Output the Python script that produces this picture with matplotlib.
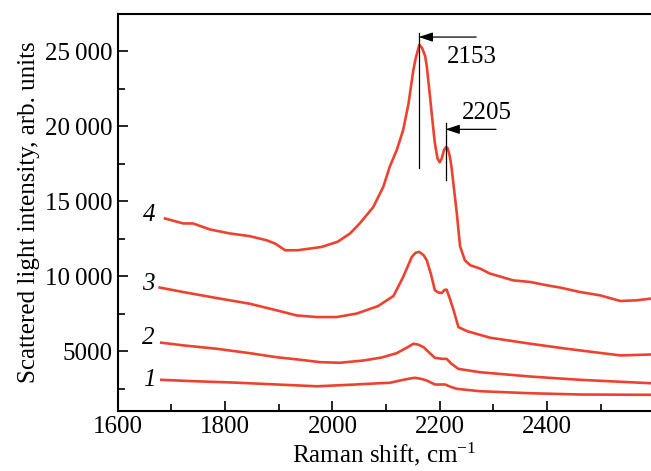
import numpy as np
import matplotlib
matplotlib.use('Agg')
from matplotlib import pyplot as plt

plt.rcParams['font.family'] = ['Liberation Serif', 'DejaVu Serif']
plt.rcParams['mathtext.fontset'] = 'custom'
plt.rcParams['mathtext.rm'] = 'Liberation Serif'
plt.rcParams['mathtext.it'] = 'Liberation Serif:italic'

# curve 1
x1 = [1681, 1740, 1815, 1908, 1971, 2033, 2089, 2107, 2126, 2145, 2154, 2165,
      2176, 2191, 2210, 2220, 2232, 2275, 2369, 2462, 2593]
y1 = [3080, 2990, 2900, 2750, 2650, 2750, 2855, 2880, 3035, 3170, 3215, 3150,
      3035, 2770, 2770, 2620, 2480, 2320, 2185, 2100, 2080]
# curve 2
x2 = [1681, 1722, 1784, 1846, 1896, 1940, 1977, 2014, 2058, 2092, 2120, 2140,
      2151, 2160, 2170, 2182, 2191, 2205, 2213, 2222, 2235, 2275, 2369, 2462,
      2593]
y2 = [5560, 5380, 5155, 4860, 4590, 4420, 4260, 4220, 4370, 4570, 4860, 5250,
      5490, 5430, 5260, 4850, 4550, 4480, 4480, 4150, 3810, 3590, 3300, 3080,
      2855]
# curve 3
x3 = [1678, 1722, 1784, 1846, 1896, 1933, 1971, 2008, 2045, 2085, 2114, 2132,
      2148, 2155, 2162, 2170, 2176, 2184, 2191, 2198, 2204, 2209, 2213, 2219,
      2226, 2235, 2251, 2294, 2369, 2437, 2487, 2537, 2593]
y3 = [9240, 8940, 8540, 8160, 7720, 7380, 7270, 7270, 7500, 8000, 8680, 9950,
      11280, 11560, 11620, 11400, 11060, 10100, 9060, 8900, 8880, 9080, 9100,
      8500, 7720, 6600, 6330, 5890, 5490, 5155, 4930, 4710, 4770]
# curve 4
x4 = [1688, 1722, 1740, 1772, 1809, 1846, 1877, 1893, 1912, 1935, 1958, 1980,
      2010, 2033, 2051, 2076, 2095, 2107, 2120, 2132, 2142, 2151, 2155, 2162,
      2167, 2173, 2176, 2182, 2185, 2191, 2196, 2200, 2204, 2208, 2212, 2215,
      2219, 2222, 2232, 2238, 2247, 2257, 2275, 2294, 2337, 2369, 2400, 2425,
      2462, 2499, 2537, 2568, 2593]
y4 = [13850, 13520, 13520, 13115, 12850, 12670, 12400, 12180, 11730, 11730,
      11840, 11950, 12300, 12850, 13520, 14600, 15970, 17310, 18420, 19760,
      21540, 23770, 24500, 25440, 25250, 24680, 24000, 21990, 20900, 18890,
      17860, 17600, 17860, 18420, 18620, 18530, 17980, 17300, 14180, 12000,
      11060, 10730, 10510, 10170, 9720, 9610, 9390, 9235, 8940, 8720, 8340,
      8390, 8500]

curves = [(x1, y1), (x2, y2), (x3, y3), (x4, y4)]
labels = ['1', '2', '3', '4']
label_pos = [(1658, 3100), (1656, 5840), (1656, 9460), (1658, 14100)]

yticks = [5000, 10000, 15000, 20000, 25000]
yticklabels = ['5000', '10\u2009000', '15\u2009000', '20\u2009000', '25\u2009000']
xticks = [1600, 1800, 2000, 2200, 2400]

red = '#ee4230'

fig = plt.figure(figsize=(6.51, 4.71), dpi=100)
ax = fig.add_axes([0.181, 0.1274, 0.819, 0.8429])

for (x, y) in curves:
    ax.plot(x, y, color=red, lw=1.9, solid_joinstyle='round')
for lab, (lx, ly) in zip(labels, label_pos):
    ax.text(lx, ly, lab, fontsize=18, style='italic', ha='center', va='center')

# peak markers
ax.plot([2161, 2161], [17200, 26250], color='k', lw=0.9)
ax.annotate('', xy=(2161, 25960), xytext=(2268, 25960),
            arrowprops=dict(arrowstyle='-|>,head_length=0.6,head_width=0.2',
                            color='k', lw=0.9, mutation_scale=14,
                            shrinkA=0, shrinkB=0))
ax.text(2260, 24650, '2153', fontsize=18, ha='center', va='center')

ax.plot([2211, 2211], [16450, 20200], color='k', lw=0.9)
ax.annotate('', xy=(2211, 19800), xytext=(2305, 19800),
            arrowprops=dict(arrowstyle='-|>,head_length=0.6,head_width=0.2',
                            color='k', lw=0.9, mutation_scale=14,
                            shrinkA=0, shrinkB=0))
ax.text(2288, 20900, '2205', fontsize=18, ha='center', va='center')

ax.set_xlim(1600, 2594)
ax.set_ylim(1000, 27500)
ax.set_xticks(xticks)
ax.set_xticks(np.arange(1700, 2594, 100), minor=True)
ax.set_yticks(yticks)
ax.set_yticklabels(yticklabels)
ax.set_yticks([2500, 7500, 12500, 17500, 22500], minor=True)
ax.tick_params(which='both', direction='in', labelsize=18, width=1.2,
               top=False, right=False)
ax.tick_params(which='major', length=7)
ax.tick_params(which='minor', length=5)
ax.spines['right'].set_visible(False)
for s in ['left', 'bottom', 'top']:
    ax.spines[s].set_linewidth(1.5)

ax.set_xlabel('Raman shift, cm$^{-1}$', fontsize=18, labelpad=2)
ax.set_ylabel('Scattered light intensity, arb. units', fontsize=18, labelpad=4)

fig.savefig('out.png', dpi=100)
